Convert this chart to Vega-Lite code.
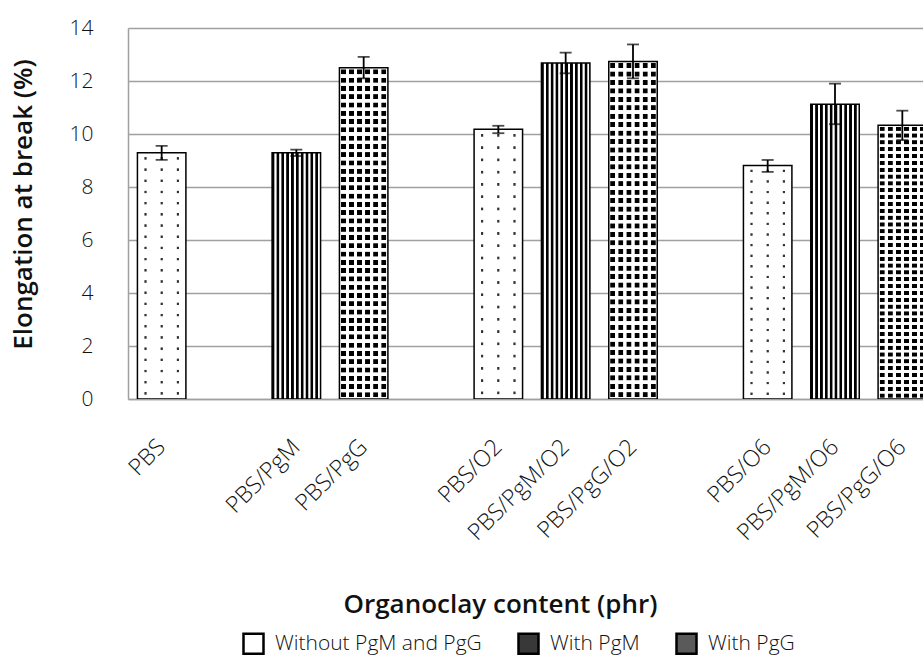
{
"$schema":"https://vega.github.io/schema/vega-lite/v6.json",
"autosize":"none",
"width":795,"height":371,
"padding":{"left":128,"top":28,"right":0,"bottom":259},
"background":"white",
"config":{"view":{"stroke":null},"font":"Open Sans"},
"data":{"values":[
{"sample":"PBS","type":"Without PgM and PgG","value":9.29,"lo":9.02,"hi":9.55},
{"sample":"PBS/PgM","type":"With PgM","value":9.29,"lo":9.17,"hi":9.41},
{"sample":"PBS/PgG","type":"With PgG","value":12.5,"lo":12.1,"hi":12.91},
{"sample":"PBS/O2","type":"Without PgM and PgG","value":10.18,"lo":10.03,"hi":10.31},
{"sample":"PBS/PgM/O2","type":"With PgM","value":12.68,"lo":12.29,"hi":13.07},
{"sample":"PBS/PgG/O2","type":"With PgG","value":12.74,"lo":12.1,"hi":13.38},
{"sample":"PBS/O6","type":"Without PgM and PgG","value":8.81,"lo":8.57,"hi":9.02},
{"sample":"PBS/PgM/O6","type":"With PgM","value":11.12,"lo":10.37,"hi":11.9},
{"sample":"PBS/PgG/O6","type":"With PgG","value":10.33,"lo":9.77,"hi":10.88}
]},
"encoding":{
"x":{"field":"sample","type":"nominal","sort":null,
"scale":{"domain":["PBS","_a","PBS/PgM","PBS/PgG","_b","PBS/O2","PBS/PgM/O2","PBS/PgG/O2","_c","PBS/O6","PBS/PgM/O6","PBS/PgG/O6"],"range":[0,808],"paddingInner":0.28,"paddingOuter":0.14},
"axis":{"title":"Organoclay content (phr)","labelExpr":"indexof(datum.value,'_')===0 ? '' : datum.value","labelAngle":-45,"labelAlign":"right","labelBaseline":"middle","labelPadding":44,"ticks":false,"tickSize":0,"labelFontSize":23,"labelFont":"Open Sans","labelFontWeight":300,"labelColor":"#111","labelLimit":0,"labelOverlap":false,"domainColor":"#a0a0a0","domainWidth":1.5,"titleFont":"Open Sans","titleFontSize":26,"titleFontWeight":600,"titleColor":"#111","titleX":372,"titleY":205,"titleAlign":"center","titleBaseline":"middle"}}
},
"layer":[
{"mark":{"type":"bar","clip":true},
 "encoding":{"y":{"field":"value","type":"quantitative","scale":{"domain":[0,14],"nice":false},
   "axis":{"title":"Elongation at break (%)","values":[0,2,4,6,8,10,12,14],"grid":true,"gridColor":"#a0a0a0","gridWidth":1.5,"ticks":false,"tickSize":0,"labelPadding":35,"labelFontSize":21,"labelFont":"Open Sans","labelFontWeight":300,"labelColor":"#111","domainColor":"#a0a0a0","domainWidth":1.5,"titleFont":"Open Sans","titleFontSize":26,"titleFontWeight":600,"titleColor":"#111","titleAngle":-90,"titleX":-105,"titleY":176,"titleAlign":"center","titleBaseline":"middle"}},
  "fill":{"field":"type","type":"nominal","scale":{"domain":["Without PgM and PgG","With PgM","With PgG"],"range":["#ffffff","#383838","#5a5a5a"]},
   "legend":{"title":null,"orient":"none","legendX":114,"legendY":604,"direction":"horizontal","symbolType":"square","symbolSize":400,"labelFontSize":21,"labelFont":"Open Sans","labelFontWeight":300,"labelColor":"#111","labelLimit":0,"columnPadding":31,"labelOffset":10,
    "encode":{"symbols":{"update":{"stroke":{"value":"black"},"strokeWidth":{"value":2.5}}}}}}}},
{"transform":[{"filter":"datum.type==='Without PgM and PgG'"}],
 "mark":{"type":"bar","clip":true,"fill":{"gradient":"linear","x1":0,"y1":0,"x2":1,"y2":0,"stops":[
{"offset":0,"color":"#ffffff"},
{"offset":0.1367,"color":"#ffffff"},{"offset":0.1517,"color":"#333333"},{"offset":0.1817,"color":"#333333"},{"offset":0.1967,"color":"#ffffff"},
{"offset":0.47,"color":"#ffffff"},{"offset":0.485,"color":"#333333"},{"offset":0.515,"color":"#333333"},{"offset":0.53,"color":"#ffffff"},
{"offset":0.8033,"color":"#ffffff"},{"offset":0.8183,"color":"#333333"},{"offset":0.8483,"color":"#333333"},{"offset":0.8633,"color":"#ffffff"},
{"offset":1,"color":"#ffffff"}]}},
 "encoding":{"y":{"field":"value","type":"quantitative"}}},
{"transform":[{"filter":"datum.type==='Without PgM and PgG'"}],
 "mark":{"type":"bar","clip":true,"fill":{"gradient":"linear","x1":0,"y1":0,"x2":0,"y2":1,"stops":[
{"offset":0,"color":"#ffffff"},
{"offset":0.0162,"color":"#ffffff"},{"offset":0.0192,"color":"rgba(255,255,255,0)"},{"offset":0.0262,"color":"rgba(255,255,255,0)"},{"offset":0.0292,"color":"#ffffff"},
{"offset":0.0617,"color":"#ffffff"},{"offset":0.0647,"color":"rgba(255,255,255,0)"},{"offset":0.0717,"color":"rgba(255,255,255,0)"},{"offset":0.0747,"color":"#ffffff"},
{"offset":0.1071,"color":"#ffffff"},{"offset":0.1101,"color":"rgba(255,255,255,0)"},{"offset":0.1171,"color":"rgba(255,255,255,0)"},{"offset":0.1201,"color":"#ffffff"},
{"offset":0.1526,"color":"#ffffff"},{"offset":0.1556,"color":"rgba(255,255,255,0)"},{"offset":0.1626,"color":"rgba(255,255,255,0)"},{"offset":0.1656,"color":"#ffffff"},
{"offset":0.198,"color":"#ffffff"},{"offset":0.201,"color":"rgba(255,255,255,0)"},{"offset":0.208,"color":"rgba(255,255,255,0)"},{"offset":0.211,"color":"#ffffff"},
{"offset":0.2435,"color":"#ffffff"},{"offset":0.2465,"color":"rgba(255,255,255,0)"},{"offset":0.2535,"color":"rgba(255,255,255,0)"},{"offset":0.2565,"color":"#ffffff"},
{"offset":0.289,"color":"#ffffff"},{"offset":0.292,"color":"rgba(255,255,255,0)"},{"offset":0.299,"color":"rgba(255,255,255,0)"},{"offset":0.302,"color":"#ffffff"},
{"offset":0.3344,"color":"#ffffff"},{"offset":0.3374,"color":"rgba(255,255,255,0)"},{"offset":0.3444,"color":"rgba(255,255,255,0)"},{"offset":0.3474,"color":"#ffffff"},
{"offset":0.3799,"color":"#ffffff"},{"offset":0.3829,"color":"rgba(255,255,255,0)"},{"offset":0.3899,"color":"rgba(255,255,255,0)"},{"offset":0.3929,"color":"#ffffff"},
{"offset":0.4253,"color":"#ffffff"},{"offset":0.4283,"color":"rgba(255,255,255,0)"},{"offset":0.4353,"color":"rgba(255,255,255,0)"},{"offset":0.4383,"color":"#ffffff"},
{"offset":0.4708,"color":"#ffffff"},{"offset":0.4738,"color":"rgba(255,255,255,0)"},{"offset":0.4808,"color":"rgba(255,255,255,0)"},{"offset":0.4838,"color":"#ffffff"},
{"offset":0.5162,"color":"#ffffff"},{"offset":0.5192,"color":"rgba(255,255,255,0)"},{"offset":0.5262,"color":"rgba(255,255,255,0)"},{"offset":0.5292,"color":"#ffffff"},
{"offset":0.5617,"color":"#ffffff"},{"offset":0.5647,"color":"rgba(255,255,255,0)"},{"offset":0.5717,"color":"rgba(255,255,255,0)"},{"offset":0.5747,"color":"#ffffff"},
{"offset":0.6071,"color":"#ffffff"},{"offset":0.6101,"color":"rgba(255,255,255,0)"},{"offset":0.6171,"color":"rgba(255,255,255,0)"},{"offset":0.6201,"color":"#ffffff"},
{"offset":0.6526,"color":"#ffffff"},{"offset":0.6556,"color":"rgba(255,255,255,0)"},{"offset":0.6626,"color":"rgba(255,255,255,0)"},{"offset":0.6656,"color":"#ffffff"},
{"offset":0.698,"color":"#ffffff"},{"offset":0.701,"color":"rgba(255,255,255,0)"},{"offset":0.708,"color":"rgba(255,255,255,0)"},{"offset":0.711,"color":"#ffffff"},
{"offset":0.7435,"color":"#ffffff"},{"offset":0.7465,"color":"rgba(255,255,255,0)"},{"offset":0.7535,"color":"rgba(255,255,255,0)"},{"offset":0.7565,"color":"#ffffff"},
{"offset":0.789,"color":"#ffffff"},{"offset":0.792,"color":"rgba(255,255,255,0)"},{"offset":0.799,"color":"rgba(255,255,255,0)"},{"offset":0.802,"color":"#ffffff"},
{"offset":0.8344,"color":"#ffffff"},{"offset":0.8374,"color":"rgba(255,255,255,0)"},{"offset":0.8444,"color":"rgba(255,255,255,0)"},{"offset":0.8474,"color":"#ffffff"},
{"offset":0.8799,"color":"#ffffff"},{"offset":0.8829,"color":"rgba(255,255,255,0)"},{"offset":0.8899,"color":"rgba(255,255,255,0)"},{"offset":0.8929,"color":"#ffffff"},
{"offset":0.9253,"color":"#ffffff"},{"offset":0.9283,"color":"rgba(255,255,255,0)"},{"offset":0.9353,"color":"rgba(255,255,255,0)"},{"offset":0.9383,"color":"#ffffff"},
{"offset":0.9708,"color":"#ffffff"},{"offset":0.9738,"color":"rgba(255,255,255,0)"},{"offset":0.9808,"color":"rgba(255,255,255,0)"},{"offset":0.9838,"color":"#ffffff"},
{"offset":1,"color":"#ffffff"}]}},
 "encoding":{"y":{"field":"value","type":"quantitative"}}},
{"transform":[{"filter":"datum.type==='With PgM'"}],
 "mark":{"type":"bar","clip":true,"fill":{"gradient":"linear","x1":0,"y1":0,"x2":1,"y2":0,"stops":[
{"offset":0,"color":"#000000"},{"offset":0.04,"color":"#000000"},{"offset":0.055,"color":"#ffffff"},{"offset":0.085,"color":"#ffffff"},
{"offset":0.1,"color":"#000000"},{"offset":0.14,"color":"#000000"},{"offset":0.155,"color":"#ffffff"},{"offset":0.185,"color":"#ffffff"},
{"offset":0.2,"color":"#000000"},{"offset":0.24,"color":"#000000"},{"offset":0.255,"color":"#ffffff"},{"offset":0.285,"color":"#ffffff"},
{"offset":0.3,"color":"#000000"},{"offset":0.34,"color":"#000000"},{"offset":0.355,"color":"#ffffff"},{"offset":0.385,"color":"#ffffff"},
{"offset":0.4,"color":"#000000"},{"offset":0.44,"color":"#000000"},{"offset":0.455,"color":"#ffffff"},{"offset":0.485,"color":"#ffffff"},
{"offset":0.5,"color":"#000000"},{"offset":0.54,"color":"#000000"},{"offset":0.555,"color":"#ffffff"},{"offset":0.585,"color":"#ffffff"},
{"offset":0.6,"color":"#000000"},{"offset":0.64,"color":"#000000"},{"offset":0.655,"color":"#ffffff"},{"offset":0.685,"color":"#ffffff"},
{"offset":0.7,"color":"#000000"},{"offset":0.74,"color":"#000000"},{"offset":0.755,"color":"#ffffff"},{"offset":0.785,"color":"#ffffff"},
{"offset":0.8,"color":"#000000"},{"offset":0.84,"color":"#000000"},{"offset":0.855,"color":"#ffffff"},{"offset":0.885,"color":"#ffffff"},
{"offset":0.9,"color":"#000000"},{"offset":0.94,"color":"#000000"},{"offset":0.955,"color":"#ffffff"},{"offset":0.985,"color":"#ffffff"},
{"offset":1,"color":"#000000"}]}},
 "encoding":{"y":{"field":"value","type":"quantitative"}}},
{"transform":[{"filter":"datum.type==='With PgG'"}],
 "mark":{"type":"bar","clip":true,"fill":{"gradient":"linear","x1":0,"y1":0,"x2":1,"y2":0,"stops":[
{"offset":0,"color":"#ffffff"},
{"offset":0.0283,"color":"#ffffff"},{"offset":0.0383,"color":"#000000"},{"offset":0.1283,"color":"#000000"},{"offset":0.1383,"color":"#ffffff"},
{"offset":0.195,"color":"#ffffff"},{"offset":0.205,"color":"#000000"},{"offset":0.295,"color":"#000000"},{"offset":0.305,"color":"#ffffff"},
{"offset":0.3617,"color":"#ffffff"},{"offset":0.3717,"color":"#000000"},{"offset":0.4617,"color":"#000000"},{"offset":0.4717,"color":"#ffffff"},
{"offset":0.5283,"color":"#ffffff"},{"offset":0.5383,"color":"#000000"},{"offset":0.6283,"color":"#000000"},{"offset":0.6383,"color":"#ffffff"},
{"offset":0.695,"color":"#ffffff"},{"offset":0.705,"color":"#000000"},{"offset":0.795,"color":"#000000"},{"offset":0.805,"color":"#ffffff"},
{"offset":0.8617,"color":"#ffffff"},{"offset":0.8717,"color":"#000000"},{"offset":0.9617,"color":"#000000"},{"offset":0.9717,"color":"#ffffff"},
{"offset":1,"color":"#ffffff"}]}},
 "encoding":{"y":{"field":"value","type":"quantitative"}}},
{"transform":[{"filter":"datum.type==='With PgG'"}],
 "mark":{"type":"bar","clip":true,"fill":{"gradient":"linear","x1":0,"y1":0,"x2":0,"y2":1,"stops":[
{"offset":0,"color":"#ffffff"},
{"offset":0.0045,"color":"#ffffff"},{"offset":0.006,"color":"rgba(255,255,255,0)"},{"offset":0.019,"color":"rgba(255,255,255,0)"},{"offset":0.0205,"color":"#ffffff"},
{"offset":0.0295,"color":"#ffffff"},{"offset":0.031,"color":"rgba(255,255,255,0)"},{"offset":0.044,"color":"rgba(255,255,255,0)"},{"offset":0.0455,"color":"#ffffff"},
{"offset":0.0545,"color":"#ffffff"},{"offset":0.056,"color":"rgba(255,255,255,0)"},{"offset":0.069,"color":"rgba(255,255,255,0)"},{"offset":0.0705,"color":"#ffffff"},
{"offset":0.0795,"color":"#ffffff"},{"offset":0.081,"color":"rgba(255,255,255,0)"},{"offset":0.094,"color":"rgba(255,255,255,0)"},{"offset":0.0955,"color":"#ffffff"},
{"offset":0.1045,"color":"#ffffff"},{"offset":0.106,"color":"rgba(255,255,255,0)"},{"offset":0.119,"color":"rgba(255,255,255,0)"},{"offset":0.1205,"color":"#ffffff"},
{"offset":0.1295,"color":"#ffffff"},{"offset":0.131,"color":"rgba(255,255,255,0)"},{"offset":0.144,"color":"rgba(255,255,255,0)"},{"offset":0.1455,"color":"#ffffff"},
{"offset":0.1545,"color":"#ffffff"},{"offset":0.156,"color":"rgba(255,255,255,0)"},{"offset":0.169,"color":"rgba(255,255,255,0)"},{"offset":0.1705,"color":"#ffffff"},
{"offset":0.1795,"color":"#ffffff"},{"offset":0.181,"color":"rgba(255,255,255,0)"},{"offset":0.194,"color":"rgba(255,255,255,0)"},{"offset":0.1955,"color":"#ffffff"},
{"offset":0.2045,"color":"#ffffff"},{"offset":0.206,"color":"rgba(255,255,255,0)"},{"offset":0.219,"color":"rgba(255,255,255,0)"},{"offset":0.2205,"color":"#ffffff"},
{"offset":0.2295,"color":"#ffffff"},{"offset":0.231,"color":"rgba(255,255,255,0)"},{"offset":0.244,"color":"rgba(255,255,255,0)"},{"offset":0.2455,"color":"#ffffff"},
{"offset":0.2545,"color":"#ffffff"},{"offset":0.256,"color":"rgba(255,255,255,0)"},{"offset":0.269,"color":"rgba(255,255,255,0)"},{"offset":0.2705,"color":"#ffffff"},
{"offset":0.2795,"color":"#ffffff"},{"offset":0.281,"color":"rgba(255,255,255,0)"},{"offset":0.294,"color":"rgba(255,255,255,0)"},{"offset":0.2955,"color":"#ffffff"},
{"offset":0.3045,"color":"#ffffff"},{"offset":0.306,"color":"rgba(255,255,255,0)"},{"offset":0.319,"color":"rgba(255,255,255,0)"},{"offset":0.3205,"color":"#ffffff"},
{"offset":0.3295,"color":"#ffffff"},{"offset":0.331,"color":"rgba(255,255,255,0)"},{"offset":0.344,"color":"rgba(255,255,255,0)"},{"offset":0.3455,"color":"#ffffff"},
{"offset":0.3545,"color":"#ffffff"},{"offset":0.356,"color":"rgba(255,255,255,0)"},{"offset":0.369,"color":"rgba(255,255,255,0)"},{"offset":0.3705,"color":"#ffffff"},
{"offset":0.3795,"color":"#ffffff"},{"offset":0.381,"color":"rgba(255,255,255,0)"},{"offset":0.394,"color":"rgba(255,255,255,0)"},{"offset":0.3955,"color":"#ffffff"},
{"offset":0.4045,"color":"#ffffff"},{"offset":0.406,"color":"rgba(255,255,255,0)"},{"offset":0.419,"color":"rgba(255,255,255,0)"},{"offset":0.4205,"color":"#ffffff"},
{"offset":0.4295,"color":"#ffffff"},{"offset":0.431,"color":"rgba(255,255,255,0)"},{"offset":0.444,"color":"rgba(255,255,255,0)"},{"offset":0.4455,"color":"#ffffff"},
{"offset":0.4545,"color":"#ffffff"},{"offset":0.456,"color":"rgba(255,255,255,0)"},{"offset":0.469,"color":"rgba(255,255,255,0)"},{"offset":0.4705,"color":"#ffffff"},
{"offset":0.4795,"color":"#ffffff"},{"offset":0.481,"color":"rgba(255,255,255,0)"},{"offset":0.494,"color":"rgba(255,255,255,0)"},{"offset":0.4955,"color":"#ffffff"},
{"offset":0.5045,"color":"#ffffff"},{"offset":0.506,"color":"rgba(255,255,255,0)"},{"offset":0.519,"color":"rgba(255,255,255,0)"},{"offset":0.5205,"color":"#ffffff"},
{"offset":0.5295,"color":"#ffffff"},{"offset":0.531,"color":"rgba(255,255,255,0)"},{"offset":0.544,"color":"rgba(255,255,255,0)"},{"offset":0.5455,"color":"#ffffff"},
{"offset":0.5545,"color":"#ffffff"},{"offset":0.556,"color":"rgba(255,255,255,0)"},{"offset":0.569,"color":"rgba(255,255,255,0)"},{"offset":0.5705,"color":"#ffffff"},
{"offset":0.5795,"color":"#ffffff"},{"offset":0.581,"color":"rgba(255,255,255,0)"},{"offset":0.594,"color":"rgba(255,255,255,0)"},{"offset":0.5955,"color":"#ffffff"},
{"offset":0.6045,"color":"#ffffff"},{"offset":0.606,"color":"rgba(255,255,255,0)"},{"offset":0.619,"color":"rgba(255,255,255,0)"},{"offset":0.6205,"color":"#ffffff"},
{"offset":0.6295,"color":"#ffffff"},{"offset":0.631,"color":"rgba(255,255,255,0)"},{"offset":0.644,"color":"rgba(255,255,255,0)"},{"offset":0.6455,"color":"#ffffff"},
{"offset":0.6545,"color":"#ffffff"},{"offset":0.656,"color":"rgba(255,255,255,0)"},{"offset":0.669,"color":"rgba(255,255,255,0)"},{"offset":0.6705,"color":"#ffffff"},
{"offset":0.6795,"color":"#ffffff"},{"offset":0.681,"color":"rgba(255,255,255,0)"},{"offset":0.694,"color":"rgba(255,255,255,0)"},{"offset":0.6955,"color":"#ffffff"},
{"offset":0.7045,"color":"#ffffff"},{"offset":0.706,"color":"rgba(255,255,255,0)"},{"offset":0.719,"color":"rgba(255,255,255,0)"},{"offset":0.7205,"color":"#ffffff"},
{"offset":0.7295,"color":"#ffffff"},{"offset":0.731,"color":"rgba(255,255,255,0)"},{"offset":0.744,"color":"rgba(255,255,255,0)"},{"offset":0.7455,"color":"#ffffff"},
{"offset":0.7545,"color":"#ffffff"},{"offset":0.756,"color":"rgba(255,255,255,0)"},{"offset":0.769,"color":"rgba(255,255,255,0)"},{"offset":0.7705,"color":"#ffffff"},
{"offset":0.7795,"color":"#ffffff"},{"offset":0.781,"color":"rgba(255,255,255,0)"},{"offset":0.794,"color":"rgba(255,255,255,0)"},{"offset":0.7955,"color":"#ffffff"},
{"offset":0.8045,"color":"#ffffff"},{"offset":0.806,"color":"rgba(255,255,255,0)"},{"offset":0.819,"color":"rgba(255,255,255,0)"},{"offset":0.8205,"color":"#ffffff"},
{"offset":0.8295,"color":"#ffffff"},{"offset":0.831,"color":"rgba(255,255,255,0)"},{"offset":0.844,"color":"rgba(255,255,255,0)"},{"offset":0.8455,"color":"#ffffff"},
{"offset":0.8545,"color":"#ffffff"},{"offset":0.856,"color":"rgba(255,255,255,0)"},{"offset":0.869,"color":"rgba(255,255,255,0)"},{"offset":0.8705,"color":"#ffffff"},
{"offset":0.8795,"color":"#ffffff"},{"offset":0.881,"color":"rgba(255,255,255,0)"},{"offset":0.894,"color":"rgba(255,255,255,0)"},{"offset":0.8955,"color":"#ffffff"},
{"offset":0.9045,"color":"#ffffff"},{"offset":0.906,"color":"rgba(255,255,255,0)"},{"offset":0.919,"color":"rgba(255,255,255,0)"},{"offset":0.9205,"color":"#ffffff"},
{"offset":0.9295,"color":"#ffffff"},{"offset":0.931,"color":"rgba(255,255,255,0)"},{"offset":0.944,"color":"rgba(255,255,255,0)"},{"offset":0.9455,"color":"#ffffff"},
{"offset":0.9545,"color":"#ffffff"},{"offset":0.956,"color":"rgba(255,255,255,0)"},{"offset":0.969,"color":"rgba(255,255,255,0)"},{"offset":0.9705,"color":"#ffffff"},
{"offset":0.9795,"color":"#ffffff"},{"offset":0.981,"color":"rgba(255,255,255,0)"},{"offset":0.994,"color":"rgba(255,255,255,0)"},{"offset":0.9955,"color":"#ffffff"},
{"offset":1,"color":"#ffffff"}]}},
 "encoding":{"y":{"field":"value","type":"quantitative"}}},
{"mark":{"type":"bar","clip":true,"fill":"transparent","stroke":"#000000","strokeWidth":1.5},
 "encoding":{"y":{"field":"value","type":"quantitative"}}},
{"mark":{"type":"rule","clip":true,"color":"#000000","strokeWidth":1.8},
 "encoding":{"y":{"field":"lo","type":"quantitative"},"y2":{"field":"hi"}}},
{"mark":{"type":"tick","clip":true,"color":"#000000","size":12,"thickness":1.8},
 "encoding":{"y":{"field":"lo","type":"quantitative"}}},
{"mark":{"type":"tick","clip":true,"color":"#000000","size":12,"thickness":1.8},
 "encoding":{"y":{"field":"hi","type":"quantitative"}}}
]
}
